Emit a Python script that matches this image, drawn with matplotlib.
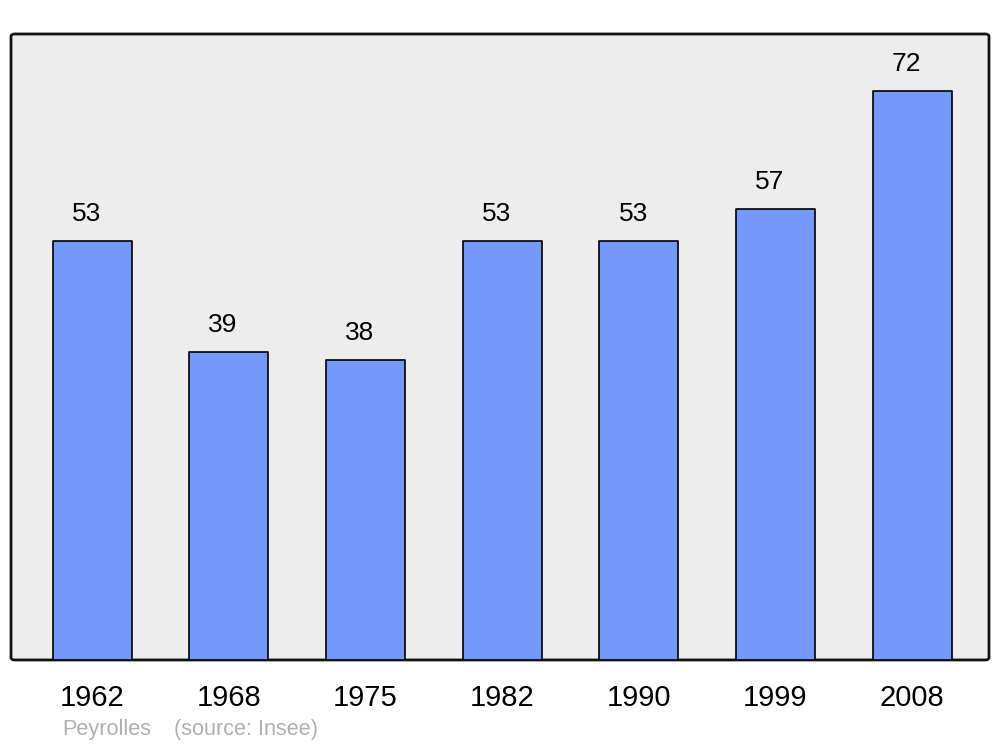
import matplotlib
matplotlib.use("Agg")
import matplotlib.pyplot as plt
from matplotlib.patches import FancyBboxPatch

plt.rcParams['font.family'] = ['Liberation Sans', 'DejaVu Sans']

# Population data (Peyrolles, source: Insee)
years = ['1962', '1968', '1975', '1982', '1990', '1999', '2008']
population = [53, 39, 38, 53, 53, 57, 72]

BAR_COLOR = '#7399ff'
BG_COLOR = '#ededed'

fig = plt.figure(figsize=(10, 7.47), dpi=100)
ax = fig.add_axes([0.011, 0.1165, 0.978, 0.838])
ax.set_facecolor('none')

# rounded plot frame
frame = FancyBboxPatch((0, 0), 1, 1, boxstyle='round,pad=0,rounding_size=0.004',
                       transform=ax.transAxes, facecolor=BG_COLOR,
                       edgecolor='#111111', linewidth=2.0, zorder=0, clip_on=False)
ax.add_patch(frame)

x = list(range(len(years)))
bars = ax.bar(x, population, width=0.578, color=BAR_COLOR, edgecolor='black',
              linewidth=1.2, zorder=2)
for b in bars:
    b.set_joinstyle('round')

for xi, v in zip(x, population):
    ax.annotate(str(v), (xi, v), xytext=(-4, 19.5), textcoords='offset points',
                ha='center', va='center', fontsize=19)

ax.set_xlim(-0.593, 6.563)
ax.set_ylim(0, 79.2)
ax.set_xticks(x)
ax.set_xticklabels(years, fontsize=21)
ax.tick_params(axis='x', length=0, pad=17)
ax.set_yticks([])
for s in ax.spines.values():
    s.set_visible(False)

fig.text(0.062, 0.0235, 'Peyrolles', fontsize=15.6, color='#b0b0b0', ha='left', va='center')
fig.text(0.174, 0.0235, '(source: Insee)', fontsize=15.6, color='#b0b0b0', ha='left', va='center')

fig.savefig('out.png', dpi=100)
